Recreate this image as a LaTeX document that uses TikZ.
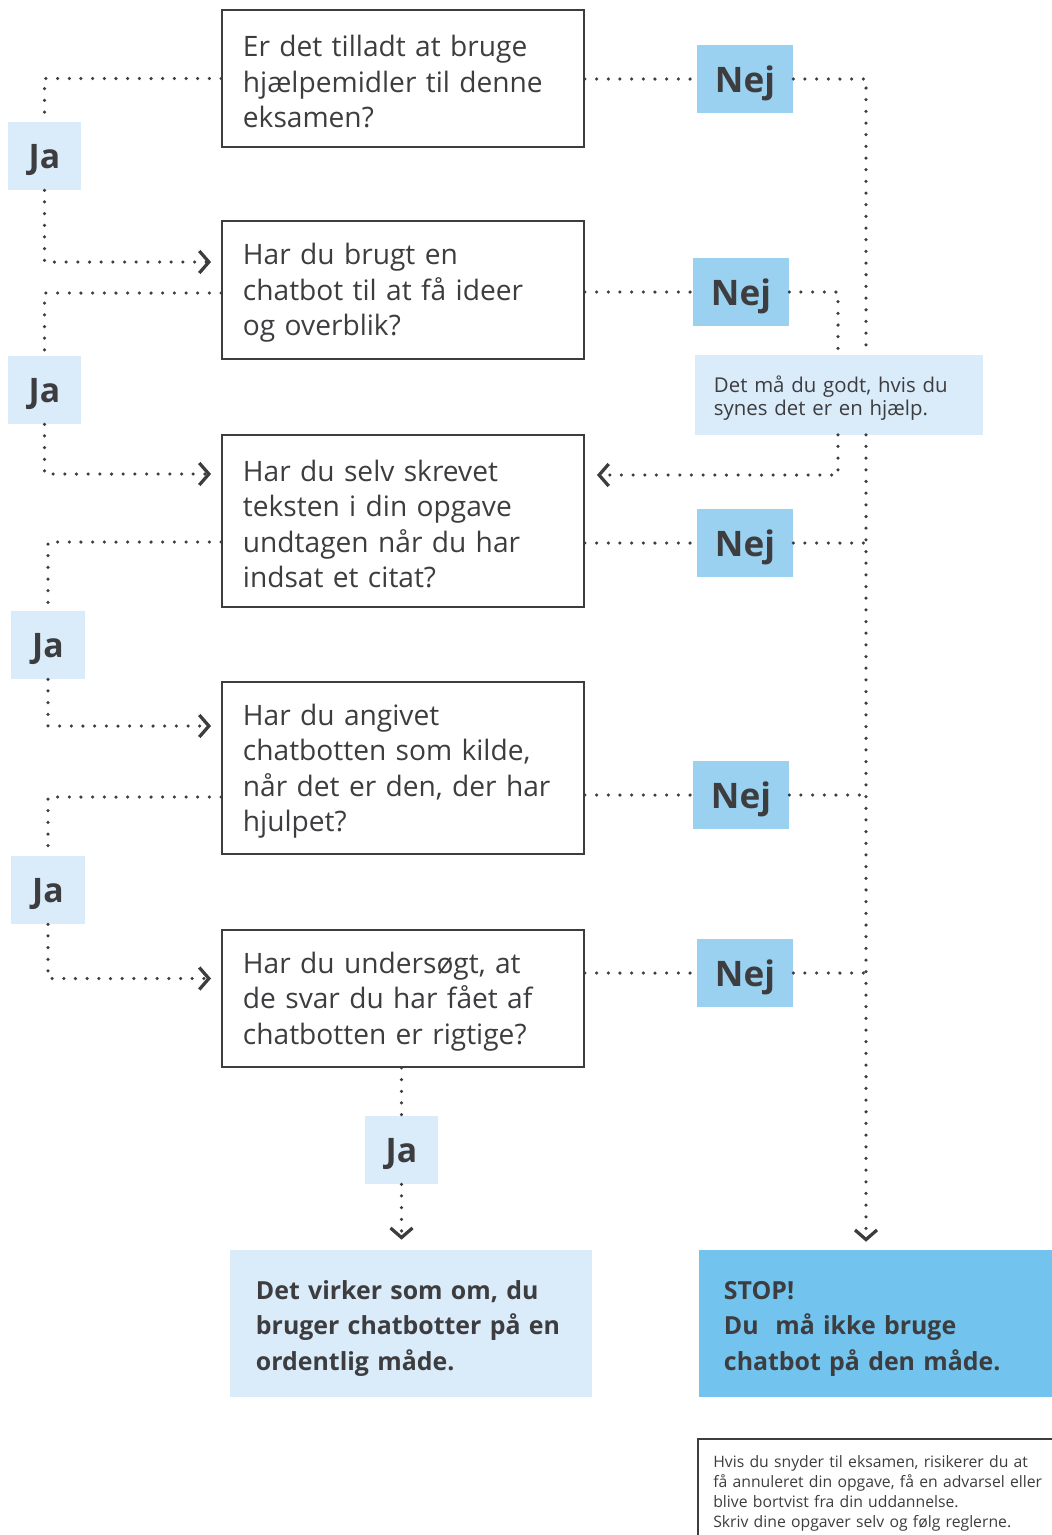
\documentclass[tikz,border=0pt]{standalone}
\usepackage{fontspec}
\setmainfont{Open Sans}
\usepackage{tikz}
\usetikzlibrary{arrows.meta,positioning,calc}

\begin{document}
\begin{tikzpicture}[
            x=0.025cm, y=-0.025cm,
            >={Straight Barb[length=0.24cm,width=0.55cm,line width=2.3pt]},
            conn/.style={ink,line width=2.5pt,line cap=round,dash pattern=on 0pt off 8.3pt},
            question/.style={draw=ink,line width=1.3pt,text=ink,text width=8cm,align=left,
                inner xsep=0.525cm,inner ysep=0pt,font=\fontsize{20}{25.2}\selectfont},
            nejbox/.style={fill=nejblue,text=ink,minimum width=2.4cm,minimum height=1.7cm,
                inner sep=0pt,text depth=0pt,font=\bfseries\fontsize{25}{30}\selectfont},
            jabox/.style={fill=jablue,text=ink,minimum width=1.825cm,minimum height=1.7cm,
                inner sep=0pt,text depth=0pt,font=\bfseries\fontsize{24}{30}\selectfont},
            result/.style={text=ink,text width=7.75cm,align=left,inner xsep=0.65cm,
                minimum height=3.675cm,font=\bfseries\fontsize{17.7}{25.5}\selectfont}
        ]

        % Define colors
        \definecolor{ink}{HTML}{3D3D40};
        \definecolor{nejblue}{HTML}{9AD1F0};
        \definecolor{jablue}{HTML}{DAEBF9};
        \definecolor{stopblue}{HTML}{72C4EE};

        \useasboundingbox (0,0) rectangle (1052,1535);

        % Questions
        \node[question,minimum height=3.425cm] (q1) at (403,78.5)
            {\rule{0pt}{19.5pt}Er det tilladt at bruge\\hjælpemidler til denne\\eksamen?};
        \node[question,minimum height=3.45cm] (q2) at (403,290)
            {\rule{0pt}{19.5pt}Har du brugt en\\chatbot til at få ideer\\og overblik?};
        \node[question,minimum height=4.3cm] (q3) at (403,521)
            {\rule{0pt}{19.5pt}Har du selv skrevet\\teksten i din opgave\\undtagen når du har\\indsat et citat?};
        \node[question,minimum height=4.3cm] (q4) at (403,768)
            {\rule{0pt}{19.5pt}Har du angivet\\chatbotten som kilde,\\når det er den, der har\\hjulpet?};
        \node[question,minimum height=3.425cm] (q5) at (403,998.5)
            {\rule{0pt}{19.5pt}Har du undersøgt, at\\de svar du har fået af\\chatbotten er rigtige?};

        % Answers
        \node[jabox] (ja1) at (44.5,156) {Ja};
        \node[jabox] (ja2) at (44.5,390) {Ja};
        \node[jabox] (ja3) at (48,645) {Ja};
        \node[jabox] (ja4) at (48,890) {Ja};
        \node[jabox] (ja5) at (401.5,1150) {Ja};

        \node[nejbox] (nej1) at (745,79) {Nej};
        \node[nejbox] (nej2) at (741,292) {Nej};
        \node[nejbox] (nej3) at (745,543) {Nej};
        \node[nejbox] (nej4) at (741,795) {Nej};
        \node[nejbox] (nej5) at (745,973) {Nej};

        \node[fill=jablue,text=ink,minimum width=7.2cm,minimum height=1.975cm,text width=6.25cm,
            align=left,inner xsep=0.475cm,font=\fontsize{14.5}{16.3}\selectfont] (info) at (839,395)
            {\rule{0pt}{16.6pt}Det må du godt, hvis du\\synes det er en hjælp.};

        % Results
        \node[result,fill=jablue] (good) at (411,1323.5)
            {\rule{0pt}{20.5pt}Det virker som om, du\\bruger chatbotter på en\\ordentlig måde.};
        \node[result,fill=stopblue,text width=7.575cm,inner xsep=0.625cm] (stop) at (875.5,1323.5)
            {\rule{0pt}{20.5pt}STOP!\\Du\ \ må ikke bruge\\chatbot på den måde.};

        % Warning note
        \draw[ink,line width=1.3pt] (1052,1439) -- (698,1439) -- (698,1535);
        \node[anchor=north west,inner sep=0pt,text=ink,text width=8.6cm,align=left,
            font=\fontsize{11.2}{14.2}\selectfont] (warn) at (713,1455)
            {Hvis du snyder til eksamen, risikerer du at\\få annuleret din opgave, få en advarsel eller\\blive bortvist fra din uddannelse.\\Skriv dine opgaver selv og følg reglerne.};

        % Ja connectors
        \draw[conn] (q1.west) -| (ja1.north);
        \draw[conn,->,shorten >=0.25cm] (ja1.south) |- ($(q2.west)+(0,-28)$);
        \draw[conn] ($(q2.west)+(0,3)$) -| (ja2.north);
        \draw[conn,->,shorten >=0.25cm] (ja2.south) |- ($(q3.west)+(0,-47)$);
        \draw[conn] ($(q3.west)+(0,21)$) -| (ja3.north);
        \draw[conn,->,shorten >=0.25cm] (ja3.south) |- ($(q4.west)+(0,-42)$);
        \draw[conn] ($(q4.west)+(0,29)$) -| (ja4.north);
        \draw[conn,->,shorten >=0.25cm] (ja4.south) |- ($(q5.west)+(0,-20)$);
        \draw[conn] (q5.south -| ja5) -- (ja5.north);
        \draw[conn,->,shorten >=0.25cm] (ja5.south) -- (ja5.south |- good.north);

        % Nej connectors
        \coordinate (trunk) at (866,79);
        \coordinate (branch) at (838,475);
        \draw[conn] (nej1.west -| q1.east) -- (nej1.west);
        \draw[conn] (nej2.west -| q2.east) -- (nej2.west);
        \draw[conn] (nej3.west -| q3.east) -- (nej3.west);
        \draw[conn] (nej4.west -| q4.east) -- (nej4.west);
        \draw[conn] (nej5.west -| q5.east) -- (nej5.west);
        \draw[conn] (nej1.east) -- (trunk) -- (trunk |- info.north);
        \draw[conn,->,shorten >=0.2cm] (trunk |- info.south) -- (trunk |- stop.north);
        \draw[conn] (nej3.east) -- (nej3.east -| trunk);
        \draw[conn] (nej4.east) -- (nej4.east -| trunk);
        \draw[conn] (nej5.east) -- (nej5.east -| trunk);
        \draw[conn] (nej2.east) -| (branch |- info.north);
        \draw[conn,->,shorten >=0.3cm] (branch |- info.south) -- (branch) -- (branch -| q3.east);

\end{tikzpicture}
\end{document}
